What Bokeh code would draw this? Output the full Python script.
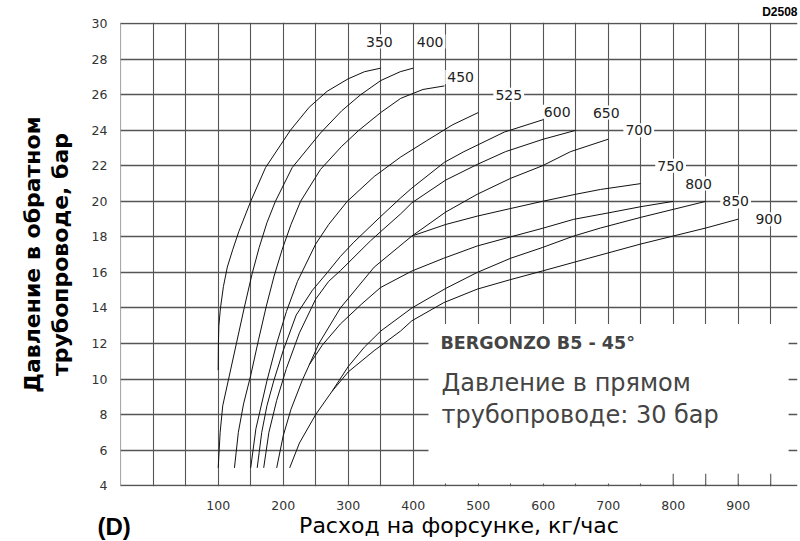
import math
from bokeh.plotting import figure
from bokeh.models import Range1d, FixedTicker, Label, LinearAxis, Title
from bokeh.embed import file_html
from bokeh.resources import INLINE

# ---------------- data ----------------
x_tick_values = [100, 200, 300, 400, 500, 600, 700, 800, 900]
y_tick_values = [4, 6, 8, 10, 12, 14, 16, 18, 20, 22, 24, 26, 28, 30]
x_grid_values = list(range(-50, 1000, 50))

c350_x = [100, 100.3, 101, 103.5, 108, 114, 122.5, 131.7, 150, 172.8, 211, 240, 267.7, 300, 325, 350]
c350_y = [10.5, 12.0, 13.0, 14.0, 15.2, 16.3, 17.3, 18.3, 20.0, 21.9, 24.0, 25.3, 26.2, 26.9, 27.3, 27.5]

c400_x = [100, 103, 107, 116, 128, 140, 152, 163, 175, 188, 213.8, 257.4, 290, 319, 350, 380, 400]
c400_y = [5.0, 7.0, 8.5, 10.0, 12.0, 14.0, 15.9, 17.4, 18.8, 20.0, 21.9, 23.85, 25.1, 26.0, 26.8, 27.3, 27.5]

c450_x = [125, 131, 139, 150, 162, 174, 186, 198.5, 212, 226.7, 257.4, 290, 316.3, 350, 380.8, 415, 448]
c450_y = [5.0, 7.0, 8.6, 10.2, 12.2, 14.1, 15.8, 17.3, 18.7, 20.0, 21.8, 23.1, 24.0, 25.0, 25.8, 26.3, 26.5]

c525_x = [150, 158, 175, 190, 205, 222, 250, 270, 298.5, 340, 380.8, 420, 460, 500]
c525_y = [5.0, 7.2, 9.9, 12.0, 13.8, 15.5, 17.6, 18.7, 20.0, 21.4, 22.5, 23.4, 24.3, 25.0]

c600_x = [160, 167, 175, 185.5, 200, 220, 245, 268, 288, 308.6, 348.6, 380.8, 398, 448, 478, 540, 600]
c600_y = [5.0, 7.0, 8.5, 9.9, 11.6, 13.6, 15.0, 16.0, 16.9, 17.7, 19.1, 20.2, 20.75, 22.2, 22.8, 23.9, 24.6]

c650_x = [170, 178, 190, 205, 225, 250, 270, 288, 334, 350, 380.8, 398, 450, 498.5, 542, 600, 650]
c650_y = [5.0, 7.0, 8.8, 10.6, 12.6, 14.5, 15.5, 16.1, 17.77, 18.3, 19.3, 19.92, 21.2, 22.08, 22.8, 23.5, 24.0]

c700_x = [190, 200, 212, 229, 255, 288, 340, 398, 450, 498.5, 550, 598.5, 642, 700]
c700_y = [5.0, 6.8, 8.3, 9.9, 12.0, 14.0, 16.3, 18.05, 19.4, 20.4, 21.3, 22.0, 22.8, 23.5]

c750_x = [398, 450, 498.5, 550, 598.5, 650, 688, 750]
c750_y = [18.05, 18.7, 19.17, 19.6, 20.0, 20.4, 20.67, 21.0]

c800_x = [240, 260, 288, 320, 349.7, 398, 447, 498.5, 549.7, 598.5, 647, 700, 750, 800]
c800_y = [10.8, 11.9, 13.1, 14.2, 15.15, 16.08, 16.8, 17.49, 18.0, 18.48, 18.99, 19.35, 19.7, 20.0]

c850_x = [275, 300, 325, 350, 398, 450, 498.5, 550, 598.5, 647, 688, 750, 800, 850]
c850_y = [9.3, 10.7, 11.8, 12.7, 14.0, 15.1, 16.0, 16.8, 17.4, 18.05, 18.5, 19.1, 19.55, 20.0]

c900_x = [210, 225, 250, 275, 300, 340, 380.5, 398, 447, 498.5, 550, 598.5, 670, 750, 800, 850, 900]
c900_y = [5.0, 6.4, 8.0, 9.3, 10.4, 11.6, 12.7, 13.28, 14.3, 15.06, 15.6, 16.08, 16.8, 17.6, 18.05, 18.5, 19.0]

curves_x = [c350_x, c400_x, c450_x, c525_x, c600_x, c650_x, c700_x, c750_x, c800_x, c850_x, c900_x]
curves_y = [c350_y, c400_y, c450_y, c525_y, c600_y, c650_y, c700_y, c750_y, c800_y, c850_y, c900_y]

curve_labels = ["350", "400", "450", "525", "600", "650", "700", "750", "800", "850", "900"]
curve_label_x = [348, 426, 473, 547, 621.5, 697, 747, 796, 839, 896, 947]
curve_label_y = [29.0, 29.0, 27.0, 26.0, 25.05, 25.0, 24.0, 22.0, 21.0, 20.0, 19.0]

box_title = "BERGONZO B5 - 45°"
box_line1 = "Давление в прямом"
box_line2 = "трубопроводе: 30 бар"
x_title = "Расход на форсунке, кг/час"
y_title1 = "Давление в обратном"
y_title2 = "трубопроводе, бар"
corner_tag = "(D)"
drawing_code = "D2508"

# ---------------- figure ----------------
p = figure(width=798, height=541,
           x_range=Range1d(-50.3, 991.2), y_range=Range1d(3.95, 30.07),
           output_backend="svg", toolbar_location=None,
           min_border_left=120, min_border_right=1,
           min_border_top=21, min_border_bottom=55)
p.outline_line_color = None
p.background_fill_color = "white"
p.border_fill_color = "white"

grid_col = "#555555"
p.xgrid.ticker = FixedTicker(ticks=x_grid_values)
p.ygrid.ticker = FixedTicker(ticks=y_tick_values)
p.xgrid.grid_line_color = grid_col
p.ygrid.grid_line_color = grid_col
p.xgrid.grid_line_width = 1.1
p.ygrid.grid_line_width = 1.4

tick_font = "DejaVu Sans"
p.xaxis.ticker = FixedTicker(ticks=x_tick_values)
p.yaxis.ticker = FixedTicker(ticks=y_tick_values)
for ax in (p.xaxis[0], p.yaxis[0]):
    ax.axis_line_color = None
    ax.major_tick_line_color = None
    ax.minor_tick_line_color = None
    ax.major_tick_out = 0
    ax.major_tick_in = 0
    ax.major_label_text_font = tick_font
    ax.major_label_text_font_size = "12.5px"
    ax.major_label_text_color = "#333333"
p.xaxis.major_label_standoff = 14
p.yaxis.major_label_standoff = 13

# axis titles
p.xaxis.axis_label = x_title
p.xaxis.axis_label_text_font = "DejaVu Sans"
p.xaxis.axis_label_text_font_style = "normal"
p.xaxis.axis_label_text_font_size = "22px"
p.xaxis.axis_label_text_color = "black"
p.xaxis.axis_label_standoff = 0

p.yaxis.axis_label = y_title2
p.yaxis.axis_label_text_font = "DejaVu Sans"
p.yaxis.axis_label_text_font_style = "bold"
p.yaxis.axis_label_text_font_size = "22px"
p.yaxis.axis_label_text_color = "black"
p.yaxis.axis_label_standoff = 16

outer = LinearAxis(ticker=FixedTicker(ticks=[]), axis_label=y_title1)
outer.axis_line_color = None
outer.major_tick_line_color = None
outer.minor_tick_line_color = None
outer.major_tick_out = 0
outer.major_tick_in = 0
outer.major_label_standoff = 0
outer.axis_label_standoff = 0
outer.axis_label_text_font = "DejaVu Sans"
outer.axis_label_text_font_style = "bold"
outer.axis_label_text_font_size = "22px"
outer.axis_label_text_color = "black"
p.add_layout(outer, "left")

# white area holding the caption (grid interrupted there)
p.quad(left=[423.5], right=[977.5], bottom=[4.12], top=[13.1],
       fill_color="white", line_color=None)
stub_x = [800, 850, 900, 950]
p.segment(x0=stub_x, y0=[4] * 4, x1=stub_x, y1=[4.67] * 4,
          line_color=grid_col, line_width=1.1)

# curves
for cx, cy in zip(curves_x, curves_y):
    p.line(cx, cy, line_color="#111111", line_width=1.0)

# curve labels
for t, lx, ly in zip(curve_labels, curve_label_x, curve_label_y):
    p.add_layout(Label(x=lx, y=ly, text=t, text_font=tick_font,
                       text_font_size="14px", text_color="#222222",
                       text_align="center", text_baseline="middle",
                       background_fill_color="white", padding=2))

# caption
p.add_layout(Label(x=442.0, y=12.04, text=box_title, text_font="DejaVu Sans",
                   text_font_style="bold", text_font_size="17.5px",
                   text_align="left", text_baseline="middle"))
p.add_layout(Label(x=443.5, y=9.8, text=box_line1, text_font="DejaVu Sans",
                   text_font_size="24px", text_align="left", text_baseline="middle"))
p.add_layout(Label(x=443.5, y=7.95, text=box_line2, text_font="DejaVu Sans",
                   text_font_size="24px", text_align="left", text_baseline="middle"))

# texts outside the frame, as titles in the side panels
code_title = Title(text=drawing_code, align="right", vertical_align="middle",
                   text_font="Liberation Sans", text_font_style="bold",
                   text_font_size="12px", text_color="black", standoff=6, offset=0)
p.add_layout(code_title, "above")
tag_title = Title(text=corner_tag, align="left", vertical_align="top",
                  text_font="Liberation Sans", text_font_style="bold",
                  text_font_size="24px", text_color="black",
                  standoff=-56, offset=-23)
p.add_layout(tag_title, "below")

open("out.html", "w").write(file_html(p, INLINE))
